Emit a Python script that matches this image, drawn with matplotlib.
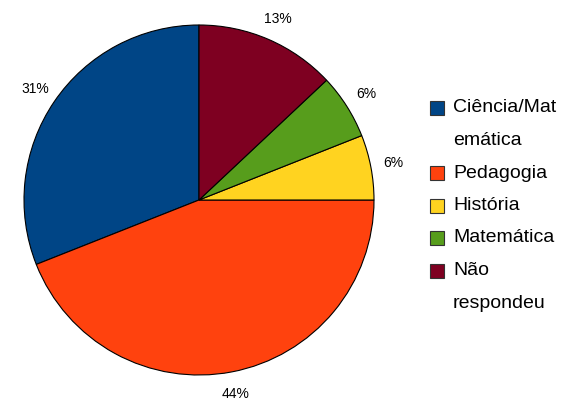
import matplotlib as mpl
from matplotlib import pyplot as plt
from matplotlib.patches import Rectangle

mpl.rcParams["font.family"] = ["Liberation Sans", "DejaVu Sans"]

labels = ["Ciência/Mat\nemática", "Pedagogia", "História", "Matemática", "Não\nrespondeu"]
values = [31, 44, 6, 6, 13]
colors = ["#004586", "#ff420e", "#ffd320", "#579d1c", "#7e0021"]

W, H = 565, 400
fig = plt.figure(figsize=(W / 100, H / 100), dpi=100)
ax = fig.add_axes([24 / W, 25 / H, 350 / W, 350 / H])

ax.pie(
    values,
    colors=colors,
    startangle=90,
    counterclock=True,
    radius=1.0,
    autopct=lambda p: f"{p:.0f}%",
    pctdistance=1.13,
    textprops={"fontsize": 10, "color": "#000000"},
    wedgeprops={"edgecolor": "black", "linewidth": 0.8},
)
ax.set_xlim(-1, 1)
ax.set_ylim(-1, 1)
ax.set_aspect("equal")
ax.axis("off")

# legend drawn by hand: box sits on the first line of a wrapped label
y = 108
pitch = 32.5
for lab, col in zip(labels, colors):
    fig.patches.append(
        Rectangle((430 / W, 1 - (y + 7) / H), 14 / W, 14 / H,
                  facecolor=col, edgecolor="#333333", linewidth=0.8,
                  transform=fig.transFigure, figure=fig)
    )
    for line in lab.split("\n"):
        fig.text(453 / W, 1 - y / H, line, fontsize=14, va="center", ha="left")
        y += pitch

fig.savefig("out.png", dpi=100)
plt.close(fig)
